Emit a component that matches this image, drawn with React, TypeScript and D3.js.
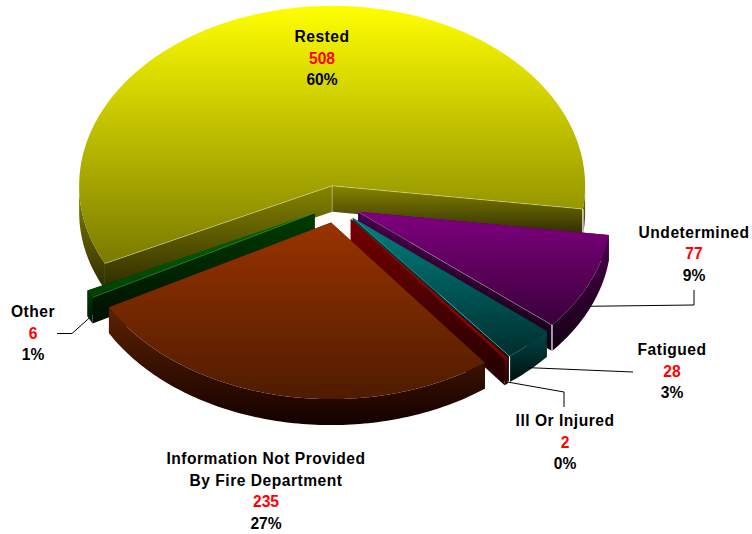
import React from 'react';
import * as d3 from 'd3';

// chart values, clockwise from the Rested slice
const categories = ['Rested', 'Undetermined', 'Fatigued', 'Ill Or Injured', 'Information Not Provided|By Fire Department', 'Other'];
const counts = [508, 77, 28, 2, 235, 6];
const percents = ['60%', '9%', '3%', '0%', '27%', '1%'];

// palette, same order as categories
const topFrom = ['#ffff00', '#800080', '#008080', '#c00000', '#993300', '#006a00'];
const topTo = ['#7a7a00', '#380038', '#002e2e', '#800000', '#4f1b00', '#004000'];
const wallFrom = ['#858500', '#4a004a', '#004848', '#780000', '#5c2200', '#003c00'];
const wallTo = ['#2e2b00', '#140014', '#000f0f', '#200000', '#140000', '#001200'];

const WIDTH = 752;
const HEIGHT = 534;
const cx = 336;
const cy = 204.3;
const rx = 253;
const ryBack = 180;
const ryFront = 176.5;
const depth = 26;
const explodeX = 24;
const explodeY = 18.7;
const rad = Math.PI / 180;

// label placement and elbow of the leader line (no leader on the Rested label)
const labelX = [322, 694, 672, 565, 266, 33];
const labelY = [42, 237.7, 355, 426, 464, 317];
const lineStep = 21.6;
const leaders: ([number, number][] | null)[] = [
  null,
  [[694, 305], [694, 290]],
  [[633, 372]],
  [[564, 392], [564, 407]],
  null,
  [[72, 333.5], [57, 333.5]],
];

const pie = d3.pie<number>()
  .sort(null)
  .startAngle(-116.1 * rad)
  .endAngle((360 - 116.1) * rad);

const scaleX = d3.scaleLinear().domain([-1, 1]).range([-rx, rx]);
// the back half of the disc is a little taller than the front, as in the tilted original
const scaleY = d3.scaleLinear().domain([-1, 0, 1]).range([ryFront, 0, -ryBack]);
const line = d3.line();

type Pt = [number, number];

const App = () => {
  const arcs = pie(counts);

  const slices = arcs.map((d, i) => {
    const mid = (d.startAngle + d.endAngle) / 2;
    const ox = cx + Math.sin(mid) * explodeX;
    const oy = cy - Math.cos(mid) * explodeY;
    const at = (a: number): Pt => [ox + scaleX(Math.sin(a)), oy + scaleY(Math.cos(a))];
    const down = (p: Pt, h = depth): Pt => [p[0], p[1] + h];
    const sweep = (a0: number, a1: number) => {
      const n = Math.max(2, Math.ceil((a1 - a0) / (1 * rad)));
      return d3.range(n + 1).map(k => at(a0 + ((a1 - a0) * k) / n));
    };

    const apex: Pt = [ox, oy];
    const outer = sweep(d.startAngle, d.endAngle);
    const top = line([apex, ...outer])! + 'Z';

    // front facing parts of the rim only, so the wall gradient stays local
    const rim = [0, 2 * Math.PI].flatMap(shift => {
      const lo = Math.max(d.startAngle + shift, Math.PI / 2);
      const hi = Math.min(d.endAngle + shift, (3 * Math.PI) / 2);
      if (lo >= hi) return [];
      const pts = sweep(lo, hi);
      return [line([...pts, ...pts.slice().reverse().map(p => down(p))])! + 'Z'];
    });

    const startPt = at(d.startAngle);
    const endPt = at(d.endAngle);
    const cutWall = (p: Pt) => line([apex, p, down(p), down(apex)])! + 'Z';
    return { i, mid, at, down, apex, top, rim, startPt, endPt, cutA: cutWall(startPt), cutB: cutWall(endPt) };
  });

  // painter's order: back slices first
  const order = [0, 5, 1, 2, 3, 4];
  const edge = 'rgba(255,255,255,0.45)';

  return (
    <svg width={WIDTH} height={HEIGHT} style={{ position: 'absolute', left: 0, top: 0, background: '#fff' }}>
      <defs>
        {categories.map((_, i) => (
          <React.Fragment key={i}>
            <linearGradient id={`top${i}`} x1="0" y1="0" x2="0" y2="1">
              <stop offset="0" stopColor={topFrom[i]} />
              <stop offset="1" stopColor={topTo[i]} />
            </linearGradient>
            <linearGradient id={`wall${i}`} x1="0" y1="0" x2="0" y2="1">
              <stop offset="0" stopColor={wallFrom[i]} />
              <stop offset="1" stopColor={wallTo[i]} />
            </linearGradient>
          </React.Fragment>
        ))}
      </defs>

      {order.map(i => {
        const s = slices[i];
        const wall = `url(#wall${i})`;
        return (
          <g key={i}>
            <path d={s.cutA} fill={wall} />
            <path d={s.cutB} fill={wall} />
            {s.rim.map((p, k) => <path key={k} d={p} fill={wall} />)}
            <path d={s.top} fill={`url(#top${i})`} />
            {i === 0 && (
              <>
                <path d={line([s.startPt, s.apex, s.endPt])!} fill="none" stroke={edge} strokeWidth={0.8} />
                <path d={line([s.apex, s.down(s.apex)])!} fill="none" stroke={edge} strokeWidth={0.8} />
              </>
            )}
            {i === 5 && <path d={line([s.apex, s.startPt])!} fill="none" stroke={edge} strokeWidth={0.5} />}
            {(i === 1 || i === 2) && <path d={line([s.apex, s.endPt])!} fill="none" stroke={edge} strokeWidth={0.6} />}
            {i < 3 && <path d={line([s.endPt, s.down(s.endPt)])!} fill="none" stroke="#fff" strokeWidth={1.2} />}
          </g>
        );
      })}

      {/* leader lines start on the rim at the middle of the slice */}
      {slices.map(s => {
        const elbow = leaders[s.i];
        if (!elbow) return null;
        const start = s.down(s.at(s.mid), depth * 0.9);
        return <path key={s.i} d={line([start, ...elbow])!} fill="none" stroke="#000" strokeWidth={1} />;
      })}

      <g fontFamily="'Liberation Sans', Arial, sans-serif" fontWeight="bold" fontSize={15.6} textAnchor="middle">
        {categories.map((name, i) => {
          const names = name.split('|');
          return (
            <text key={i} x={labelX[i]} y={labelY[i]} fill="#000">
              {names.map((n, k) => (
                <tspan key={k} x={labelX[i]} dy={k === 0 ? 0 : lineStep} letterSpacing={0.5}>{n}</tspan>
              ))}
              <tspan x={labelX[i]} dy={lineStep} fill="#ff0000">{counts[i]}</tspan>
              <tspan x={labelX[i]} dy={lineStep}>{percents[i]}</tspan>
            </text>
          );
        })}
      </g>
    </svg>
  );
};

export default App;
